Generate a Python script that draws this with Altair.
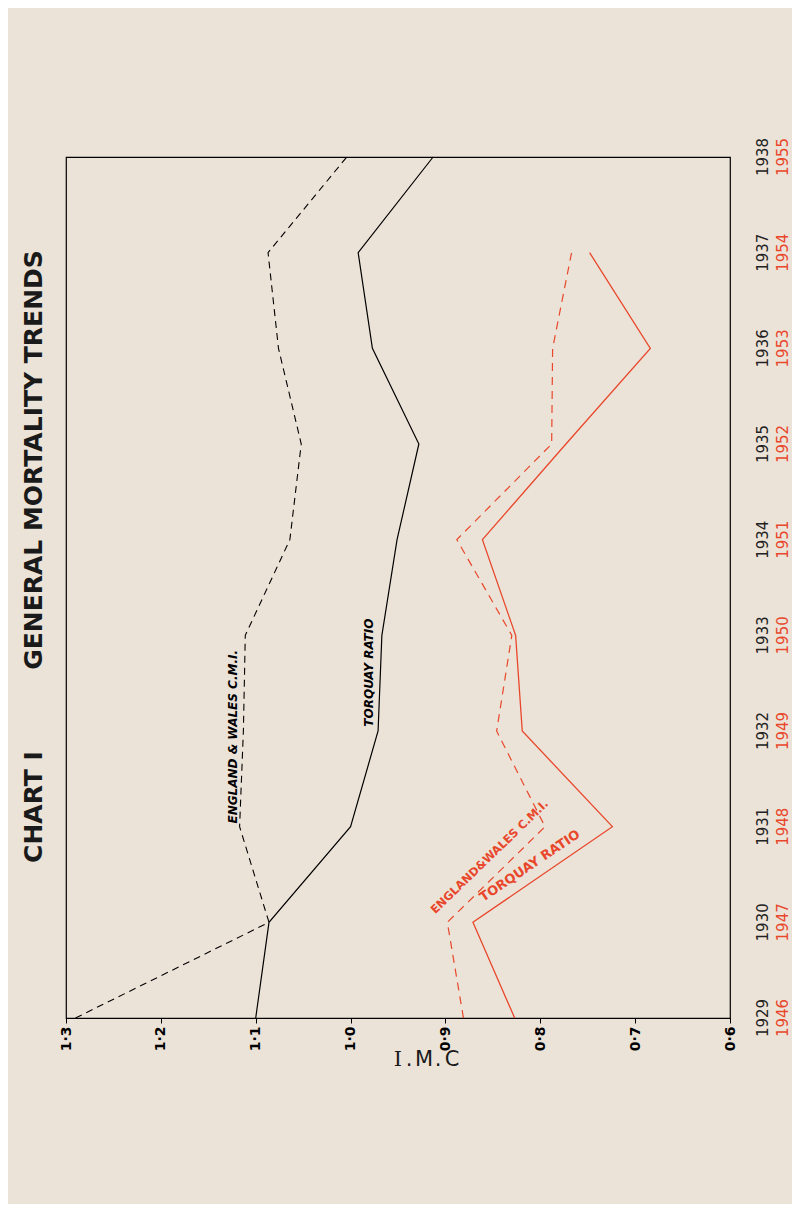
import altair as alt
import pandas as pd

# ---- data ----
years_a = [1929, 1930, 1931, 1932, 1933, 1934, 1935, 1936, 1937, 1938]
years_b = [1946, 1947, 1948, 1949, 1950, 1951, 1952, 1953, 1954, 1955]
ew_cmi_a = [1.29, 1.086, 1.117, 1.113, 1.111, 1.064, 1.052, 1.076, 1.087, 1.004]
torquay_a = [1.10, 1.086, 1.0, 0.971, 0.967, 0.951, 0.928, 0.977, 0.992, 0.913]
ew_cmi_b = [0.881, 0.898, 0.795, 0.846, 0.830, 0.888, 0.788, 0.787, 0.767]
torquay_b = [0.827, 0.871, 0.724, 0.819, 0.826, 0.861, 0.773, 0.684, 0.748]
cmi_ticks = [1.3, 1.2, 1.1, 1.0, 0.9, 0.8, 0.7, 0.6]

BG = "#ece3d8"
RED = "#e8472b"
FONT = "DejaVu Sans"


def series(vals):
    return pd.DataFrame({"idx": list(range(len(vals))), "cmi": vals})


X = alt.X(
    "cmi:Q",
    scale=alt.Scale(domain=[0.6, 1.3], reverse=True, nice=False, zero=False),
    axis=alt.Axis(
        values=cmi_ticks,
        labelExpr="replace(format(datum.value, '.1f'), '.', '·')",
        labelAngle=270,
        title=None,
        grid=False,
        tickSize=5,
        labelPadding=3,
        labelFontSize=14,
        labelFont=FONT,
        labelFontWeight="bold",
        labelColor="black",
        domainColor="black",
        tickColor="black",
    ),
)
Y = alt.Y("idx:Q", scale=alt.Scale(domain=[0, 9], nice=False, zero=False), axis=None)
ORD = alt.Order("idx:Q")

ew_a = alt.Chart(series(ew_cmi_a)).mark_line(color="black", strokeWidth=1.1, strokeDash=[7, 5]).encode(x=X, y=Y, order=ORD)
tq_a = alt.Chart(series(torquay_a)).mark_line(color="black", strokeWidth=1.2).encode(x=X, y=Y, order=ORD)
ew_b = alt.Chart(series(ew_cmi_b)).mark_line(color=RED, strokeWidth=1.2, strokeDash=[8, 6]).encode(x=X, y=Y, order=ORD)
tq_b = alt.Chart(series(torquay_b)).mark_line(color=RED, strokeWidth=1.3).encode(x=X, y=Y, order=ORD)

# inline series labels (anchored in data coordinates)
lab_black = pd.DataFrame({
    "cmi": [1.124, 0.981],
    "idx": [2.94, 3.61],
    "t": ["ENGLAND & WALES C.M.I.", "TORQUAY RATIO"],
})
labels_black = alt.Chart(lab_black).mark_text(
    angle=270, fontSize=12, font=FONT, fontWeight="bold", color="black", fontStyle="italic"
).encode(x=X, y=Y, text="t:N")

lab_red_ew = pd.DataFrame({"cmi": [0.853], "idx": [1.68], "t": ["ENGLAND&WALES C.M.I."]})
lab_red_tq = pd.DataFrame({"cmi": [0.811], "idx": [1.59], "t": ["TORQUAY RATIO"]})
labels_red_ew = alt.Chart(lab_red_ew).mark_text(
    angle=316, fontSize=11.5, font=FONT, fontWeight="bold", color=RED
).encode(x=X, y=Y, text="t:N")
labels_red_tq = alt.Chart(lab_red_tq).mark_text(
    angle=326, fontSize=13, font=FONT, fontWeight="bold", color=RED
).encode(x=X, y=Y, text="t:N")

# year labels along the right side
yl_a = pd.DataFrame({"idx": list(range(10)), "t": [str(y) for y in years_a]})
yl_b = pd.DataFrame({"idx": list(range(10)), "t": [str(y) for y in years_b]})
years_black = alt.Chart(yl_a).mark_text(angle=270, fontSize=15, font=FONT, color="#222222").encode(
    x=alt.value(697), y=Y, text="t:N"
)
years_red = alt.Chart(yl_b).mark_text(angle=270, fontSize=15, font=FONT, color=RED).encode(
    x=alt.value(717), y=Y, text="t:N"
)

# title (rotated, reading bottom to top)
t1 = alt.Chart(pd.DataFrame({"t": ["CHART I"]})).mark_text(
    angle=270, fontSize=25, font=FONT, fontWeight="bold", color="#1a1a1a"
).encode(x=alt.value(-32), y=alt.value(650), text="t:N")
t2 = alt.Chart(pd.DataFrame({"t": ["GENERAL MORTALITY TRENDS"]})).mark_text(
    angle=270, fontSize=25, font=FONT, fontWeight="bold", color="#1a1a1a"
).encode(x=alt.value(-32), y=alt.value(303), text="t:N")

# axis title C.M.I (lettered right to left under the axis)
cmi_chars = ["C", ".", "M", ".", "I"]
cmi_x = [386, 372, 358, 343, 332]
cmi_layers = []
for ch, xx in zip(cmi_chars, cmi_x):
    cmi_layers.append(
        alt.Chart(pd.DataFrame({"t": [ch]})).mark_text(
            fontSize=21, font=("DejaVu Serif" if ch == "I" else FONT), color="#1a1a1a", baseline="alphabetic"
        ).encode(x=alt.value(xx), y=alt.value(909), text="t:N")
    )

chart = alt.layer(
    ew_a, tq_a, ew_b, tq_b, labels_black, labels_red_ew, labels_red_tq,
    years_black, years_red, t1, t2, *cmi_layers
).properties(
    width=664,
    height=861,
    padding={"left": 58, "top": 149, "right": 62, "bottom": 186},
    autosize=alt.AutoSizeParams(type="none"),
    background=BG,
).configure_view(
    stroke="black", strokeWidth=1.2
)

chart.save("out.html", embed_options={"renderer": "svg", "actions": False})
